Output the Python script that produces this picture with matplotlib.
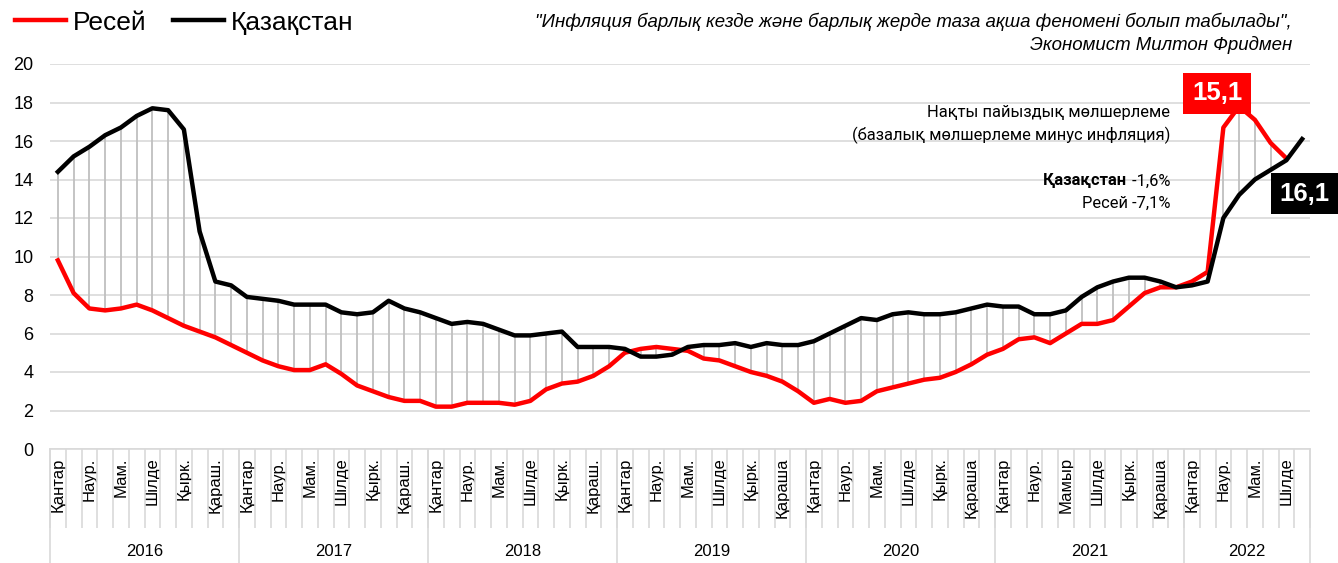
import numpy as np
import matplotlib
matplotlib.use('Agg')
import matplotlib.pyplot as plt
from matplotlib.transforms import blended_transform_factory

plt.rcParams['font.family'] = ['Liberation Sans', 'DejaVu Sans']

# ---- data (annual inflation, %) ----
years = ['2016', '2017', '2018', '2019', '2020', '2021', '2022']
months_per_year = [12, 12, 12, 12, 12, 12, 8]

# labels shown every second month
labels_2016 = ['Қантар', 'Наур.', 'Мам.', 'Шілде', 'Қырк.', 'Қараш.']
labels_2017 = ['Қантар', 'Наур.', 'Мам.', 'Шілде', 'Қырк.', 'Қараш.']
labels_2018 = ['Қантар', 'Наур.', 'Мам.', 'Шілде', 'Қырк.', 'Қараш.']
labels_2019 = ['Қантар', 'Наур.', 'Мам.', 'Шілде', 'Қырк.', 'Қараша']
labels_2020 = ['Қантар', 'Наур.', 'Мам.', 'Шілде', 'Қырк.', 'Қараша']
labels_2021 = ['Қантар', 'Наур.', 'Мамыр', 'Шілде', 'Қырк.', 'Қараша']
labels_2022 = ['Қантар', 'Наур.', 'Мам.', 'Шілде']

russia = [
    9.8, 8.1, 7.3, 7.2, 7.3, 7.5, 7.2, 6.8, 6.4, 6.1, 5.8, 5.4,   # 2016
    5.0, 4.6, 4.3, 4.1, 4.1, 4.4, 3.9, 3.3, 3.0, 2.7, 2.5, 2.5,   # 2017
    2.2, 2.2, 2.4, 2.4, 2.4, 2.3, 2.5, 3.1, 3.4, 3.5, 3.8, 4.3,   # 2018
    5.0, 5.2, 5.3, 5.2, 5.1, 4.7, 4.6, 4.3, 4.0, 3.8, 3.5, 3.0,   # 2019
    2.4, 2.6, 2.4, 2.5, 3.0, 3.2, 3.4, 3.6, 3.7, 4.0, 4.4, 4.9,   # 2020
    5.2, 5.7, 5.8, 5.5, 6.0, 6.5, 6.5, 6.7, 7.4, 8.1, 8.4, 8.4,   # 2021
    8.7, 9.2, 16.7, 17.8, 17.1, 15.9, 15.1,                       # 2022
]
kazakhstan = [
    14.4, 15.2, 15.7, 16.3, 16.7, 17.3, 17.7, 17.6, 16.6, 11.3, 8.7, 8.5,   # 2016
    7.9, 7.8, 7.7, 7.5, 7.5, 7.5, 7.1, 7.0, 7.1, 7.7, 7.3, 7.1,             # 2017
    6.8, 6.5, 6.6, 6.5, 6.2, 5.9, 5.9, 6.0, 6.1, 5.3, 5.3, 5.3,             # 2018
    5.2, 4.8, 4.8, 4.9, 5.3, 5.4, 5.4, 5.5, 5.3, 5.5, 5.4, 5.4,             # 2019
    5.6, 6.0, 6.4, 6.8, 6.7, 7.0, 7.1, 7.0, 7.0, 7.1, 7.3, 7.5,             # 2020
    7.4, 7.4, 7.0, 7.0, 7.2, 7.9, 8.4, 8.7, 8.9, 8.9, 8.7, 8.4,             # 2021
    8.5, 8.7, 12.0, 13.2, 14.0, 14.5, 15.0, 16.1,                          # 2022
]

quote_1 = '"Инфляция барлық кезде және барлық жерде таза ақша феномені болып табылады",'
quote_2 = 'Экономист Милтон Фридмен'
note_1 = 'Нақты пайыздық мөлшерлеме'
note_2 = '(базалық мөлшерлеме минус инфляция)'
real_rate_kz = '-1,6%'
real_rate_ru = '-7,1%'

# ---- figure ----
W, H = 1338, 563
fig = plt.figure(figsize=(W / 100, H / 100), dpi=100)
ax = fig.add_axes([50 / W, 1 - 449 / H, 1260 / W, 385 / H])

n = sum(months_per_year)
x = np.arange(n)
xr = x[:len(russia)]
ru = np.array(russia)
kz = np.array(kazakhstan)

# high-low lines between the two series
ax.vlines(xr, np.minimum(ru, kz[:len(ru)]), np.maximum(ru, kz[:len(ru)]),
          color='#bfbfbf', lw=1.3, zorder=2)
l_ru, = ax.plot(xr, ru, color='#ff0000', lw=3.2, zorder=3)
l_kz, = ax.plot(x, kz, color='black', lw=3.2, zorder=4)

ax.set_xlim(-0.5, n - 0.5)
ax.set_ylim(0, 20)
ax.set_yticks(np.arange(0, 21, 2))
ax.yaxis.grid(True, color='#d9d9d9', lw=1.2)
ax.set_axisbelow(True)
for s in ['left', 'right', 'top']:
    ax.spines[s].set_visible(False)
ax.spines['bottom'].set_color('#d9d9d9')
ax.spines['bottom'].set_linewidth(1.2)
ax.tick_params(axis='y', length=0, labelsize=13, pad=12)

# month labels (every second month), rotated
all_labels = [labels_2016, labels_2017, labels_2018, labels_2019,
              labels_2020, labels_2021, labels_2022]
tick_pos, tick_lab = [], []
start = 0
for nm, labs in zip(months_per_year, all_labels):
    for k, lab in enumerate(labs):
        tick_pos.append(start + 2 * k)
        tick_lab.append(lab)
    start += nm
ax.set_xticks(tick_pos)
ax.set_xticklabels(tick_lab, rotation=90, fontsize=12)
ax.tick_params(axis='x', which='major', length=0, pad=6)
ax.set_xticks(np.arange(-0.5, n, 1), minor=True)
ax.tick_params(axis='x', which='minor', length=57, color='#d9d9d9', width=1.2)

# year separators and labels
tr = blended_transform_factory(ax.transData, ax.transAxes)
bounds = np.concatenate([[0], np.cumsum(months_per_year)]) - 0.5
for b in bounds:
    ax.plot([b, b], [0, -0.296], transform=tr, color='#d9d9d9', lw=1.2, clip_on=False)
for yr, a, b in zip(years, bounds[:-1], bounds[1:]):
    ax.text((a + b) / 2, -0.265, yr, transform=tr, ha='center', va='center', fontsize=12)

# legend
fig.legend([l_ru, l_kz], ['Ресей', 'Қазақстан'], loc='upper left',
           bbox_to_anchor=(0.003, 1.0), ncol=2, frameon=False, fontsize=19,
           handlelength=1.95, handletextpad=0.25, columnspacing=1.0,
           borderaxespad=0.0, borderpad=0.4)

# quote
fig.text(1292 / W, 1 - 22 / H, quote_1, ha='right', va='center', style='italic', fontsize=13.4)
fig.text(1292 / W, 1 - 45 / H, quote_2, ha='right', va='center', style='italic', fontsize=13.4)

# note
note_font = ['Roboto', 'Noto Sans', 'DejaVu Sans']
fig.text(1170 / W, 1 - 113 / H, note_1, ha='right', va='center', fontsize=11.9, family=note_font)
fig.text(1170 / W, 1 - 135 / H, note_2, ha='right', va='center', fontsize=11.9, family=note_font)
t_kz = fig.text(1170 / W, 1 - 181 / H, ' ' + real_rate_kz, ha='right', va='center',
                fontsize=11.9, family=note_font)
fig.canvas.draw()
bb = t_kz.get_window_extent()
fig.text(bb.x0 / W, 1 - 181 / H, 'Қазақстан', ha='right', va='center',
         fontsize=11.9, fontweight='bold', family=note_font)
fig.text(1170 / W, 1 - 203 / H, 'Ресей ' + real_rate_ru, ha='right', va='center',
         fontsize=11.9, family=note_font)

# value boxes
fmt = lambda v: f'{v:.1f}'.replace('.', ',')
ax.text(73.6, 18.47, fmt(russia[-1]), ha='center', va='center', color='white',
        fontsize=18.5, fontweight='bold', zorder=6, clip_on=False,
        bbox=dict(boxstyle='square,pad=0.33', fc='#ff0000', ec='none'))
ax.text(79.15, 13.27, fmt(kazakhstan[-1]), ha='center', va='center', color='white',
        fontsize=18.5, fontweight='bold', zorder=6, clip_on=False,
        bbox=dict(boxstyle='square,pad=0.33', fc='black', ec='none'))

fig.savefig('out.png', dpi=100)
